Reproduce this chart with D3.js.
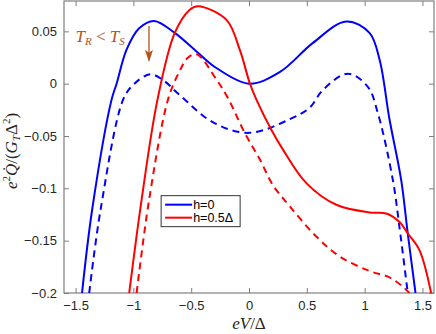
<!DOCTYPE html>
<html>
<head>
<meta charset="utf-8">
<script src="https://cdn.jsdelivr.net/npm/d3@7"></script>
<style>
  body { margin: 0; background: #fff; }
  svg { display: block; }
</style>
</head>
<body>
<script>
// values (eV/Delta, heat current)
var blueSolidV = [-1.444, -1.356, -1.188, -1.145, -1.059, -0.95, -0.82, -0.642, -0.426, -0.282, 0, 0.265, 0.553, 0.841, 1.042, 1.129, 1.215, 1.316, 1.373, 1.44];
var blueSolidQ = [-0.2, -0.12, -0.015, 0, 0.0325, 0.053, 0.06, 0.0485, 0.028, 0.015, 0, 0.011, 0.039, 0.0595, 0.0485, 0.023, -0.034, -0.092, -0.143, -0.2];

var blueDashV = [-1.382, -1.283, -1.088, -1.0, -0.857, -0.75, -0.598, -0.31, 0, 0.351, 0.524, 0.639, 0.855, 1.028, 1.114, 1.244, 1.30, 1.373];
var blueDashQ = [-0.2, -0.12, -0.015, -0.001, 0.009, 0.004, -0.011, -0.037, -0.047, -0.034, -0.023, -0.006, 0.0095, -0.003, -0.028, -0.092, -0.136, -0.2];

var redSolidV = [-1.036, -0.929, -0.791, -0.642, -0.512, -0.44, -0.195, -0.08, 0.006, 0.064, 0.193, 0.294, 0.496, 0.755, 1.042, 1.187, 1.30, 1.373, 1.474, 1.575];
var redSolidQ = [-0.2, -0.111, -0.015, 0.0485, 0.0707, 0.074, 0.061, 0.0325, 0.0007, -0.0153, -0.044, -0.063, -0.095, -0.1157, -0.123, -0.124, -0.132, -0.143, -0.159, -0.2];

var redDashV = [-0.972, -0.864, -0.70, -0.6, -0.527, -0.45, -0.282, -0.181, -0.037, 0.092, 0.207, 0.351, 0.582, 0.783, 1.042, 1.215, 1.33, 1.388];
var redDashQ = [-0.2, -0.111, -0.015, 0.012, 0.025, 0.028, 0.004, -0.014, -0.047, -0.072, -0.097, -0.117, -0.146, -0.165, -0.179, -0.185, -0.194, -0.2];

var xTicks = [-1.5, -1, -0.5, 0, 0.5, 1, 1.5];
var yTicks = [-0.2, -0.15, -0.1, -0.05, 0, 0.05];
var legendLabels = ["h=0", "h=0.5\u0394"];

var W = 436, H = 334;
var margin = {top: 1, right: 2, bottom: 41, left: 64};
var width = W - margin.left - margin.right,
    height = H - margin.top - margin.bottom;

var x = d3.scaleLinear().domain([-1.6, 1.6]).range([0, width]);
var y = d3.scaleLinear().domain([-0.2, 0.079]).range([height, 0]);

var svg = d3.select("body").append("svg")
    .attr("width", W).attr("height", H)
  .append("g")
    .attr("transform", "translate(" + margin.left + "," + margin.top + ")");

svg.append("clipPath").attr("id", "clip")
  .append("rect").attr("width", width).attr("height", height);

var axisColor = "#7f7f7f",
    tickFont = "'Liberation Sans', Arial, sans-serif",
    texFont = "'Liberation Serif', 'DejaVu Serif', serif";

function styleAxis(g, labels) {
  g.select(".domain").remove();
  g.selectAll(".tick line").attr("stroke", axisColor);
  g.selectAll(".tick text")
    .attr("fill", labels ? "#262626" : "none")
    .style("font-family", tickFont).style("font-size", "13px");
}

svg.append("g").attr("transform", "translate(0," + height + ")")
  .call(d3.axisBottom(x).tickValues(xTicks).tickSize(-5).tickPadding(8).tickFormat(d3.format("")))
  .call(function(g) { styleAxis(g, true); });
svg.append("g")
  .call(d3.axisTop(x).tickValues(xTicks).tickSize(-5).tickFormat(""))
  .call(function(g) { styleAxis(g, false); });
svg.append("g")
  .call(d3.axisLeft(y).tickValues(yTicks).tickSize(-5).tickPadding(7).tickFormat(d3.format("")))
  .call(function(g) { styleAxis(g, true); });
svg.append("g").attr("transform", "translate(" + width + ",0)")
  .call(d3.axisRight(y).tickValues(yTicks).tickSize(-5).tickFormat(""))
  .call(function(g) { styleAxis(g, false); });

svg.append("rect").attr("width", width).attr("height", height)
  .attr("fill", "none").attr("stroke", axisColor).attr("stroke-width", 1.2);

var line = d3.line()
  .x(function(d) { return x(d[0]); })
  .y(function(d) { return y(d[1]); })
  .curve(d3.curveCatmullRom.alpha(0.5));

var series = [
  {v: blueSolidV, q: blueSolidQ, color: "#0000ff", dash: null},
  {v: blueDashV, q: blueDashQ, color: "#0000ff", dash: "7,5"},
  {v: redSolidV, q: redSolidQ, color: "#ff0000", dash: null},
  {v: redDashV, q: redDashQ, color: "#ff0000", dash: "7,5"}
];

svg.append("g").attr("clip-path", "url(#clip)")
  .selectAll("path").data(series).enter().append("path")
  .attr("d", function(s) { return line(d3.zip(s.v, s.q)); })
  .attr("fill", "none")
  .attr("stroke", function(s) { return s.color; })
  .attr("stroke-width", 2)
  .attr("stroke-dasharray", function(s) { return s.dash; });

// annotation
var brown = "#b5531c";
var ann = svg.append("text").attr("x", x(-1.5)).attr("y", y(0.04))
  .attr("fill", brown).style("font-family", texFont).style("font-size", "17px");
ann.append("tspan").style("font-style", "italic").text("T");
ann.append("tspan").attr("dy", 3).style("font-style", "italic").style("font-size", "11px").text("R");
ann.append("tspan").attr("dy", -3).text(" < ");
ann.append("tspan").style("font-style", "italic").text("T");
ann.append("tspan").attr("dy", 3).style("font-style", "italic").style("font-size", "11px").text("S");

var ax = x(-0.865);
svg.append("line").attr("x1", ax).attr("x2", ax).attr("y1", y(0.055)).attr("y2", y(0.028))
  .attr("stroke", brown).attr("stroke-width", 1.3);
svg.append("path")
  .attr("d", "M" + ax + "," + y(0.0205) + " L" + (ax - 4) + "," + y(0.0325) +
             " L" + ax + "," + y(0.0295) + " L" + (ax + 4) + "," + y(0.0325) + "Z")
  .attr("fill", brown);

// legend
var lx = x(-0.76), ly = y(-0.107);
var leg = svg.append("g").attr("transform", "translate(" + lx + "," + ly + ")");
leg.append("rect").attr("width", 79).attr("height", 31)
  .attr("fill", "#fff").attr("stroke", "#333").attr("stroke-width", 1);
leg.selectAll("line.l").data(legendLabels).enter().append("line")
  .attr("x1", 4).attr("x2", 31)
  .attr("y1", function(d, i) { return 9 + i * 13; })
  .attr("y2", function(d, i) { return 9 + i * 13; })
  .attr("stroke", function(d, i) { return i ? "#ff0000" : "#0000ff"; })
  .attr("stroke-width", 2);
leg.selectAll("text").data(legendLabels).enter().append("text")
  .attr("x", 32).attr("y", function(d, i) { return 13.5 + i * 13; })
  .style("font-family", tickFont).style("font-size", "12.5px").attr("fill", "#000")
  .text(function(d) { return d; });

// axis labels
var xl = svg.append("text").attr("x", x(0)).attr("y", height + 36)
  .attr("text-anchor", "middle").attr("fill", "#262626")
  .style("font-family", texFont).style("font-size", "17px");
xl.append("tspan").style("font-style", "italic").text("eV");
xl.append("tspan").text("/\u0394");

var yl = svg.append("text")
  .attr("transform", "translate(" + (-47) + "," + (height / 2 + 4) + ") rotate(-90)")
  .attr("text-anchor", "middle").attr("fill", "#262626")
  .style("font-family", texFont).style("font-size", "17px");
yl.append("tspan").style("font-style", "italic").text("e");
yl.append("tspan").attr("dy", -7).style("font-size", "11px").text("2");
yl.append("tspan").attr("dy", 7).style("font-style", "italic").text("Q\u0307");
yl.append("tspan").text("/(");
yl.append("tspan").style("font-style", "italic").text("G");
yl.append("tspan").attr("dy", 3).style("font-style", "italic").style("font-size", "11px").text("T");
yl.append("tspan").attr("dy", -3).text("\u0394");
yl.append("tspan").attr("dy", -7).style("font-size", "11px").text("2");
yl.append("tspan").attr("dy", 7).text(")");
</script>
</body>
</html>
